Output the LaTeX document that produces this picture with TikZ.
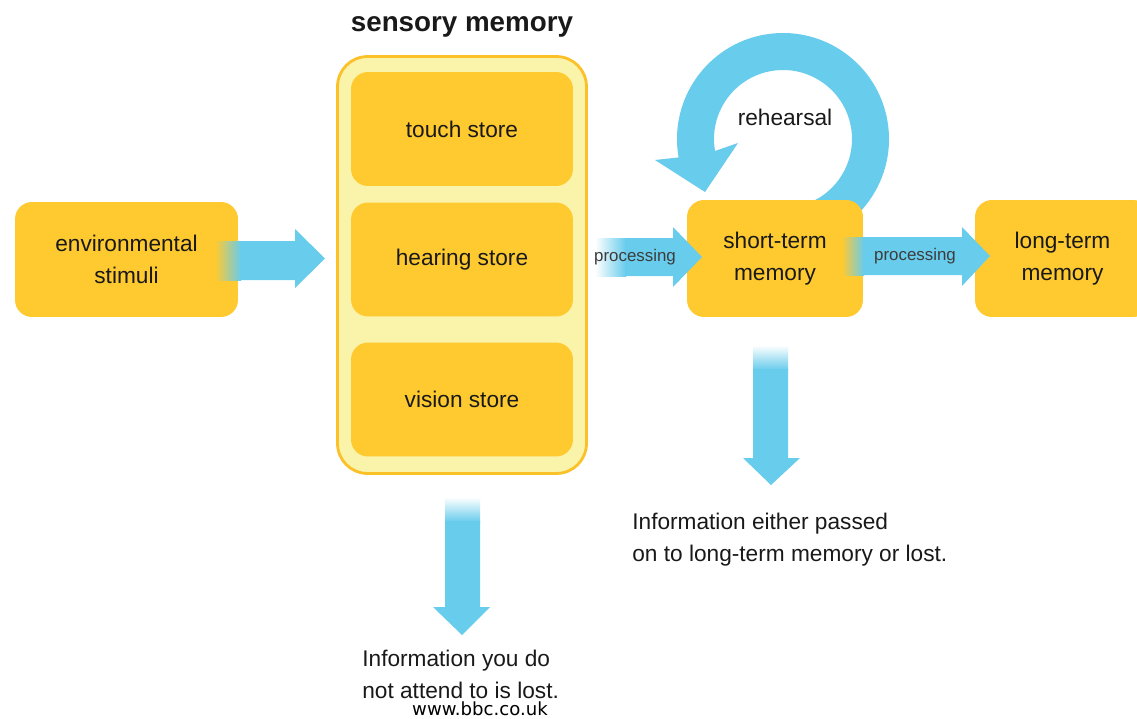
\documentclass[tikz,border=0pt]{standalone}
\usepackage{fontspec}
\setmainfont{Liberation Sans}
\newfontfamily\urlfont{DejaVu Sans}
\usetikzlibrary{calc}
\definecolor{boxorange}{RGB}{255,202,48}
\definecolor{boxyellow}{RGB}{250,243,170}
\definecolor{rimorange}{RGB}{252,192,40}
\definecolor{flowblue}{RGB}{104,204,236}
\definecolor{inktext}{RGB}{25,25,25}
\definecolor{labelgray}{RGB}{60,60,60}
\begin{document}
\begin{tikzpicture}[x=0.02cm,y=-0.02cm,
	store/.style={fill=boxorange, rounded corners=0.34cm, align=center, text=inktext, inner sep=0pt,
		font=\fontsize{12.9pt}{18.1pt}\selectfont},
	note/.style={anchor=west, align=left, text=inktext, inner sep=0pt,
		font=\fontsize{12.9pt}{18.1pt}\selectfont},
	proclabel/.style={text=labelgray, inner sep=0pt, font=\fontsize{9.6pt}{11pt}\selectfont}]
	\clip (0,0) rectangle (1137,718);
	\fill[white] (0,0) rectangle (1137,718);
	% left box and sensory stores
	\node[store, minimum width=4.46cm, minimum height=2.3cm] (env) at (126.5,259.5) {environmental\\stimuli};
	\node[fill=boxyellow, draw=rimorange, line width=1.6pt, rounded corners=0.6cm,
		minimum width=4.98cm, minimum height=8.34cm] (sensory) at (462,265) {};
	\node[anchor=base, font=\bfseries\fontsize{15.8pt}{18pt}\selectfont, text=inktext, inner sep=0pt] (title) at (462,31) {sensory memory};
	\node[store, minimum width=4.44cm, minimum height=2.28cm] (touch) at (462,129) {touch store};
	\node[store, minimum width=4.44cm, minimum height=2.28cm] (hearing) at (462,259.5) {hearing store};
	\node[store, minimum width=4.44cm, minimum height=2.28cm] (vision) at (462,399.5) {vision store};
	% rehearsal loop
	\coordinate (loop) at (783,139);
	\fill[flowblue] ($(loop)+(80:106)$) arc[start angle=80, end angle=-190, radius=106]
		-- (655,160) -- (705,192) -- (738,143)
		-- ($(loop)+(-190:69)$) arc[start angle=-190, end angle=80, radius=69] -- cycle;
	\node[text=inktext, inner sep=0pt, font=\fontsize{12.9pt}{15pt}\selectfont] (rehearsal) at (785,117) {rehearsal};
	\node[store, minimum width=3.52cm, minimum height=2.34cm] (stm) at (775,258.5) {short-term\\memory};
	\node[store, minimum width=3.5cm, minimum height=2.34cm] (ltm) at (1062.5,258.5) {long-term\\memory};
	% arrow into sensory memory
	\shade[left color=boxorange, right color=flowblue] (215,241) rectangle (241,280);
	\fill[flowblue] (240,241) -- (295,241) -- (295,229) -- (325,258.5) -- (295,288) -- (295,280) -- (240,280) -- cycle;
	% processing into short-term memory
	\shade[left color=white, right color=flowblue] (595,238) rectangle (626,276);
	\fill[flowblue] (625,238) -- (673,238) -- (673,227) -- (702,257) -- (673,287) -- (673,276) -- (625,276) -- cycle;
	\node[proclabel] (proc1) at (635,257) {processing};
	% processing into long-term memory
	\shade[left color=boxorange, right color=flowblue] (842,237) rectangle (864,275);
	\fill[flowblue] (863,237) -- (962,237) -- (962,227) -- (990,256) -- (962,286) -- (962,275) -- (863,275) -- cycle;
	\node[proclabel] (proc2) at (915,256) {processing};
	% lost arrows
	\shade[top color=white, bottom color=flowblue] (445,497) rectangle (480,522);
	\fill[flowblue] (445,521) -- (445,607) -- (433,607) -- (462,635) -- (490,607) -- (480,607) -- (480,521) -- cycle;
	\shade[top color=white, bottom color=flowblue] (753,345) rectangle (788,370);
	\fill[flowblue] (753,369) -- (753,458) -- (743,458) -- (771,485) -- (800,458) -- (788,458) -- (788,369) -- cycle;
	\node[note] (sensorylost) at (362,674) {Information you do\\not attend to is lost.};
	\node[note] (stmlost) at (632,540) {Information either passed\\on to long-term memory or lost.};
	\node[anchor=base, inner sep=0pt, text=black, font=\urlfont\fontsize{10.3pt}{12pt}\selectfont] (source) at (480,715) {www.bbc.co.uk};
\end{tikzpicture}
\end{document}
